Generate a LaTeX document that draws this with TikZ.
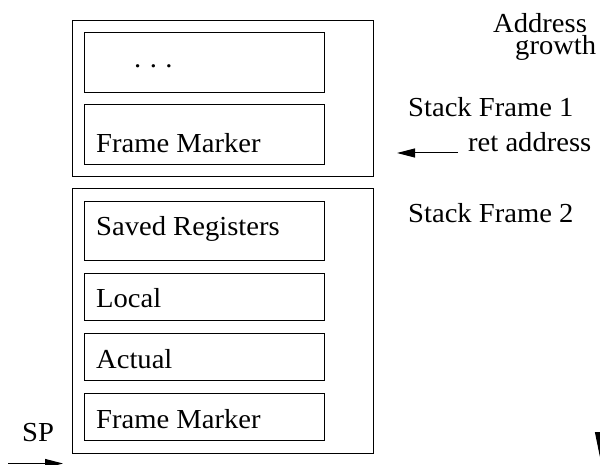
\documentclass[tikz,border=0pt]{standalone}
\usepackage{fontspec}
\setmainfont[FakeStretch=1.04]{Liberation Serif}
\usetikzlibrary{arrows.meta}
\begin{document}
\begin{tikzpicture}[x=1pt,y=-1pt,
  box/.style={draw,line width=0.9pt,rectangle,inner sep=0pt,anchor=north west},
  lbl/.style={anchor=base west,inner sep=0pt,font=\fontsize{27.5}{30}\selectfont},
  arr/.style={line width=1pt,-{Triangle[length=18pt,width=9pt]}}]
\useasboundingbox (0,0) rectangle (600,465);
\clip (0,0) rectangle (600,465);
% frame 1
\node[box,minimum width=301pt,minimum height=156pt] (f1) at (72,20) {};
\node[box,minimum width=240pt,minimum height=60pt] (dots) at (84,32) {};
\node[box,minimum width=240pt,minimum height=60pt] (fm1) at (84,104) {};
\node[lbl] (tdots) at (134,68) {.\hspace{8.5pt}.\hspace{8.5pt}.};
\node[lbl] (tfm1) at (96,153) {Frame Marker};
% frame 2
\node[box,minimum width=301pt,minimum height=265pt] (f2) at (72,188) {};
\node[box,minimum width=240pt,minimum height=59pt] (sr) at (84,201) {};
\node[box,minimum width=240pt,minimum height=47pt] (loc) at (84,273) {};
\node[box,minimum width=240pt,minimum height=47pt] (act) at (84,333) {};
\node[box,minimum width=240pt,minimum height=47pt] (fm2) at (84,393) {};
\node[lbl] (tsr) at (96,236) {Saved Registers};
\node[lbl] (tloc) at (96,308) {Local};
\node[lbl] (tact) at (96,368) {Actual};
\node[lbl] (tfm2) at (96,428) {Frame Marker};
% right labels
\node[lbl,align=left,font=\fontsize{27.5}{22}\selectfont] (addr) at (493,55) {Address\\\hspace*{22pt}growth};
\node[lbl] (sf1) at (408,117) {Stack Frame 1};
\node[lbl] (ret) at (468,152) {ret address};
\node[lbl] (sf2) at (408,223) {Stack Frame 2};
\node[lbl] (sp) at (22,441) {SP};
% arrows
\coordinate (retA) at (458,153);
\coordinate (retB) at (397,153);
\draw[arr] (retA) -- (retB);
\coordinate (spA) at (8,463.5);
\coordinate (spB) at (63,463.5);
\draw[arr] (spA) -- (spB);
\coordinate (gA) at (603,70);
\coordinate (gB) at (603,472);
\draw[arr,-{Triangle[length=40pt,width=16pt]}] (gA) -- (gB);
\end{tikzpicture}
\end{document}
